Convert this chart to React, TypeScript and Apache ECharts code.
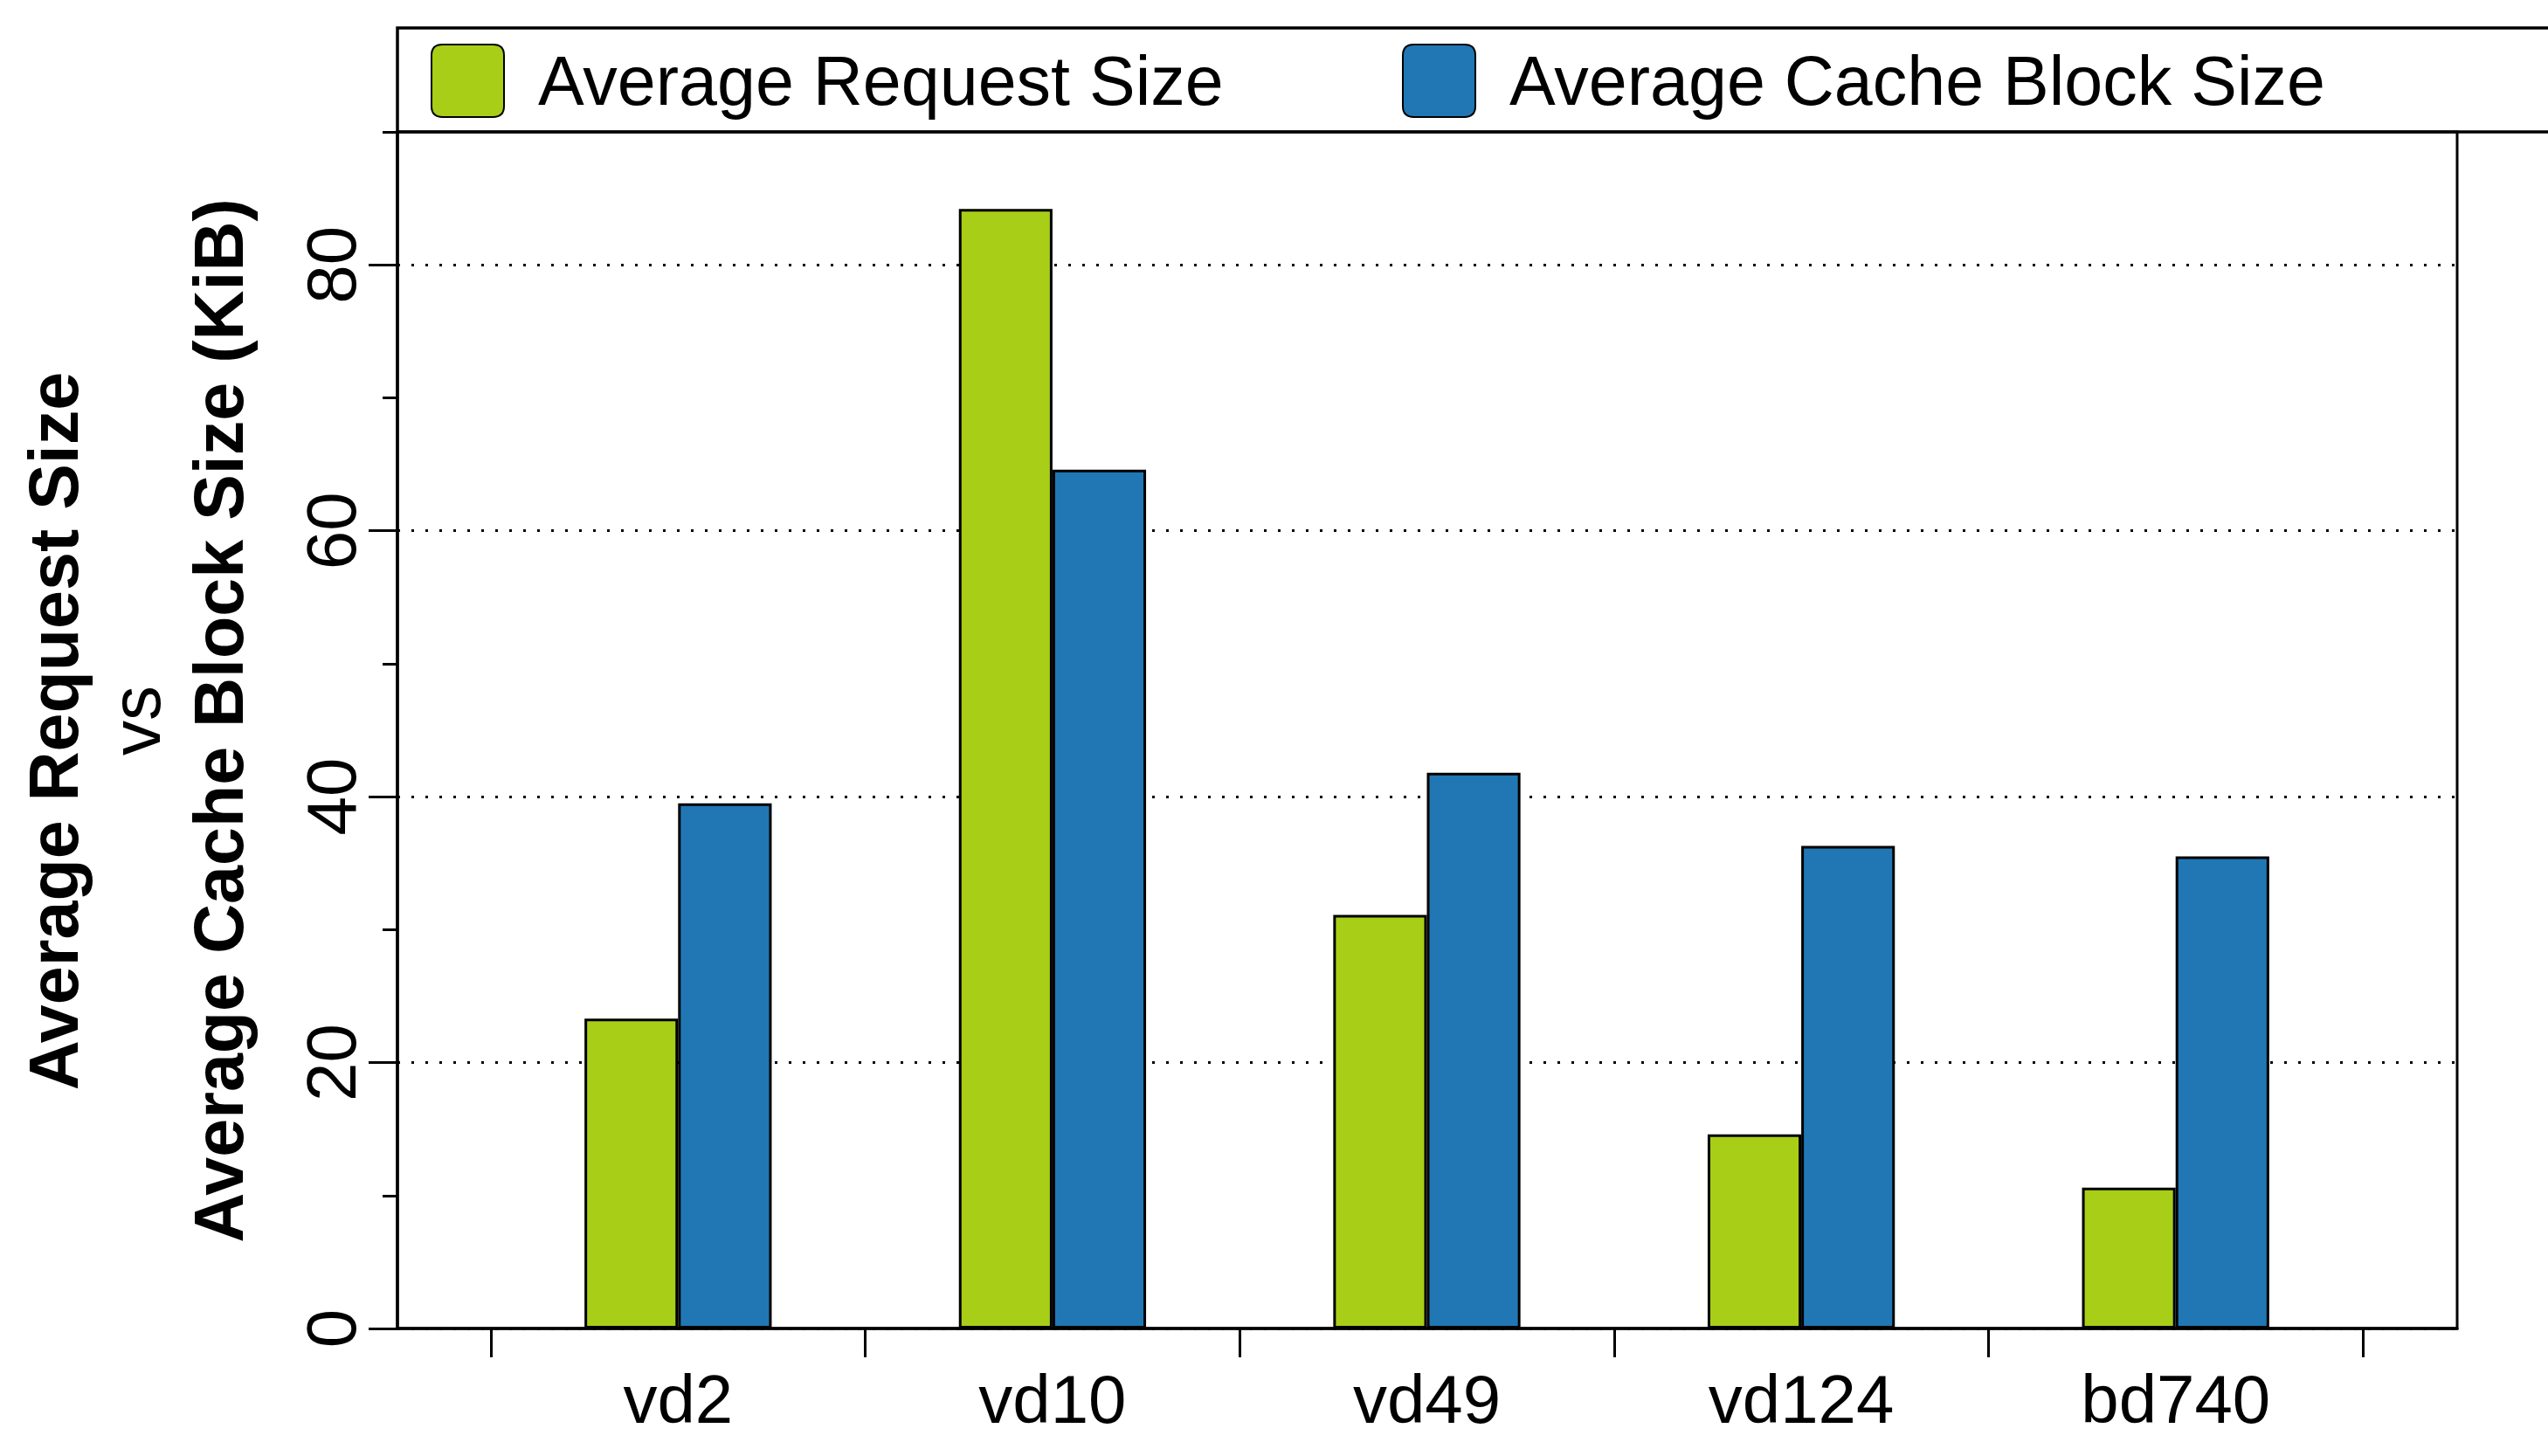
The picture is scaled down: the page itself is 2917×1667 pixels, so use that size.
import React, { useEffect, useRef } from "react";
import * as echarts from "echarts";

const categories = ["vd2", "vd10", "vd49", "vd124", "bd740"];
const requestSize = [23.3, 84.2, 31.1, 14.6, 10.6];
const cacheBlockSize = [39.5, 64.6, 41.8, 36.3, 35.5];
const majorTicks = [0, 20, 40, 60, 80];
const minorTicks = [10, 30, 50, 70, 90];
const seriesNames = ["Average Request Size", "Average Cache Block Size"];
const titleLines = ["Average Request Size", "vs", "Average Cache Block Size (KiB)"];

const FONT = "'Liberation Sans', Arial, Helvetica, sans-serif";
const ICON = "path://M15,0 H85 Q100,0 100,15 V85 Q100,100 85,100 H15 Q0,100 0,85 V15 Q0,0 15,0 Z";

export default function App() {
  const ref = useRef<HTMLDivElement>(null);
  useEffect(() => {
    document.body.style.margin = "0";
    const chart = echarts.init(ref.current!, null, { renderer: "svg" });
    const W = 2917, H = 1667;
    const plotL = 455, plotR = 2813, plotT = 151, plotB = 1521;
    const catL = 562, catR = 2705;
    const legendCommon = {
      top: 50,
      orient: "horizontal",
      itemWidth: 83,
      itemHeight: 83,
      icon: ICON,
      padding: 0,
      textStyle: { fontSize: 79, color: "#000", fontFamily: FONT, padding: [0, 0, 0, 34] },
    };
    chart.setOption({
      animation: false,
      backgroundColor: "#fff",
      textStyle: { fontFamily: FONT },
      legend: [
        { ...legendCommon, left: 493, data: [seriesNames[0]] },
        { ...legendCommon, left: 1605, data: [seriesNames[1]] },
      ],
      grid: [
        {
          left: plotL, right: W - plotR, top: plotT, bottom: H - plotB,
          show: true, borderColor: "#000", borderWidth: 3, backgroundColor: "transparent",
          containLabel: false,
        },
        {
          left: catL, right: W - catR, top: plotT, bottom: H - plotB,
          show: false, containLabel: false,
        },
      ],
      xAxis: [
        {
          gridIndex: 0, type: "value", min: 0, max: 1,
          axisLine: { show: true, onZero: false, lineStyle: { color: "#000", width: 3.5 } },
          axisTick: { show: false }, axisLabel: { show: false }, splitLine: { show: false },
        },
        {
          gridIndex: 1, type: "category", data: categories, boundaryGap: true,
          axisLine: { show: false },
          axisTick: { show: true, alignWithLabel: false, length: 33, lineStyle: { color: "#000", width: 3 } },
          axisLabel: { fontSize: 78, color: "#000", fontFamily: FONT, margin: 42 },
          splitLine: { show: false },
        },
      ],
      yAxis: [
        {
          gridIndex: 0, type: "value", min: 0, max: 90, position: "left",
          axisLine: { show: true, lineStyle: { color: "#000", width: 3.5 } },
          axisTick: { show: true, length: 33, customValues: majorTicks, lineStyle: { color: "#000", width: 3 } },
          axisLabel: {
            show: true, customValues: majorTicks, rotate: 90, fontSize: 80, color: "#000",
            fontFamily: FONT, margin: 36,
          },
          splitLine: { show: true, lineStyle: { color: "#000", width: 3, type: [3, 13] } },
        },
        {
          gridIndex: 0, type: "value", min: 0, max: 90, position: "left", offset: 0,
          axisLine: { show: false },
          axisTick: { show: true, length: 17, customValues: minorTicks, lineStyle: { color: "#000", width: 3 } },
          axisLabel: { show: false },
          splitLine: { show: false },
        },
        {
          gridIndex: 1, type: "value", min: 0, max: 90, show: false,
          splitLine: { show: false },
        },
      ],
      series: [
        {
          name: seriesNames[0], type: "bar", xAxisIndex: 1, yAxisIndex: 2,
          data: requestSize, barWidth: "25%", barGap: "0%",
          itemStyle: { color: "#A8CE17", borderColor: "#000", borderWidth: 3 },
        },
        {
          name: seriesNames[1], type: "bar", xAxisIndex: 1, yAxisIndex: 2,
          data: cacheBlockSize, barWidth: "25%", barGap: "0%",
          itemStyle: { color: "#2077B4", borderColor: "#000", borderWidth: 3 },
        },
      ],
      graphic: [
        {
          type: "rect", silent: true, z: 10,
          shape: { x: plotL, y: 32, width: W - plotL + 20, height: plotT - 32 },
          style: { fill: "none", stroke: "#000", lineWidth: 3.5 },
        },
        {
          type: "text", x: 61, y: 837, rotation: Math.PI / 2,
          style: {
            text: titleLines[0], font: `bold 79px ${FONT}`, fill: "#000",
            textAlign: "center", textVerticalAlign: "middle",
          },
        },
        {
          type: "text", x: 155, y: 825, rotation: Math.PI / 2,
          style: {
            text: titleLines[1], font: `80px ${FONT}`, fill: "#000",
            textAlign: "center", textVerticalAlign: "middle",
          },
        },
        {
          type: "text", x: 250, y: 825, rotation: Math.PI / 2,
          style: {
            text: titleLines[2], font: `bold 79px ${FONT}`, fill: "#000",
            textAlign: "center", textVerticalAlign: "middle",
          },
        },
      ],
    });
    return () => chart.dispose();
  }, []);
  return <div ref={ref} style={{ width: 2917, height: 1667 }} />;
}
